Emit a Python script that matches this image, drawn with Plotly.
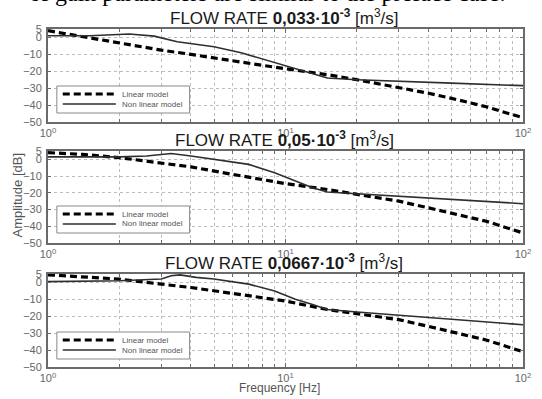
import plotly.graph_objects as go

# ---- data ----
freq_lin = [1, 1.4, 2, 3, 4, 6, 8, 10, 15, 20, 30, 40, 50, 70, 100]

lin_033 = [4, 0.5, -3.5, -7.5, -10, -14, -16.5, -18.5, -22, -25, -29.5, -33, -36, -41, -47.5]
freq_nl_033 = [1, 1.5, 2.2, 2.8, 3.5, 5, 6.5, 9, 12.5, 15, 20, 30, 50, 100]
nl_033 = [1, 1, 2, 0.8, -2.5, -5.5, -9, -15, -21, -24, -25, -26, -27, -28.5]

lin_05 = [4, 3, 1, -2, -4.5, -9, -12, -14.5, -18, -21, -25, -29, -32, -37, -44]
freq_nl_05 = [1, 2, 2.6, 3.3, 4, 5, 7, 9, 11, 13, 15, 20, 30, 50, 100]
nl_05 = [1.5, 1.5, 2, 3.5, 2, 0, -3, -8, -13, -17, -19.5, -20.5, -22, -24, -26.5]

lin_0667 = [4.5, 3.5, 2, -1, -3, -6.5, -9, -11, -16, -18.5, -22, -26, -29, -34, -41]
freq_nl_0667 = [1, 2, 3, 3.3, 3.6, 4.2, 5, 7, 9, 11, 13, 15, 20, 30, 50, 100]
nl_0667 = [0.5, 1, 2, 4, 4.5, 3, 2, -1, -5, -10, -13, -16, -17.5, -19.5, -22, -25]

titles = ["FLOW RATE <b>0,033·10<sup>-3</sup></b> [m<sup>3</sup>/s]",
          "FLOW RATE <b>0,05·10<sup>-3</sup></b> [m<sup>3</sup>/s]",
          "FLOW RATE <b>0,0667·10<sup>-3</sup></b> [m<sup>3</sup>/s]"]
y_ticks = [5, 0, -10, -20, -30, -40, -50]
x_ticks = [1, 10, 100]
x_ticktext = ["10<sup>0</sup>", "10<sup>1</sup>", "10<sup>2</sup>"]
x_minor = [2, 3, 4, 5, 6, 7, 8, 9, 20, 30, 40, 50, 60, 70, 80, 90]
legend_names = ["Linear model", "Non linear model"]

panels = [
    (freq_lin, lin_033, freq_nl_033, nl_033),
    (freq_lin, lin_05, freq_nl_05, nl_05),
    (freq_lin, lin_0667, freq_nl_0667, nl_0667),
]

# ---- layout geometry (pixels) ----
W, H = 542, 399
ML, MR, MT, MB = 48, 11, 29, 32
PH = H - MT - MB
PW = W - ML - MR
panel_px = [(29, 122), (151, 243), (274, 367)]
legend_top_px = [86, 206, 332]

def py(p):
    return (H - MB - p) / PH

def px(x):
    return (x - ML) / PW

fig = go.Figure()
axis_color = "#6a6a6a"
grid_color = "#bdbdbd"
tick_font = dict(family="Liberation Sans, Arial", size=11, color="#666666")
dash_style = dict(color="black", width=3.2, dash="7px,4px")
solid_style = dict(color="#2e2e2e", width=1.6)

layout = dict(
    width=W, height=H,
    margin=dict(l=ML, r=MR, t=MT, b=MB),
    paper_bgcolor="white", plot_bgcolor="white",
    showlegend=False,
    annotations=[], shapes=[],
)

for i, (fl, yl, fn, yn) in enumerate(panels):
    n = "" if i == 0 else str(i + 1)
    xa = "x" + n
    ya = "y" + n
    fig.add_trace(go.Scatter(x=fl, y=yl, mode="lines", name=legend_names[0],
                             xaxis=xa, yaxis=ya, line=dash_style))
    fig.add_trace(go.Scatter(x=fn, y=yn, mode="lines", name=legend_names[1],
                             xaxis=xa, yaxis=ya, line=solid_style))
    top, bot = panel_px[i]
    layout["xaxis" + n] = dict(
        type="log", range=[0, 2], domain=[0, 1], anchor=ya,
        tickvals=x_ticks, ticktext=x_ticktext, tickfont=tick_font,
        showgrid=True, gridcolor=grid_color, griddash="dot", gridwidth=1,
        minor=dict(tickvals=x_minor, showgrid=True, gridcolor=grid_color,
                   griddash="dot", gridwidth=1, ticks="inside", ticklen=3,
                   tickcolor=axis_color),
        showline=True, linecolor=axis_color, linewidth=2, mirror="ticks",
        ticks="inside", ticklen=4, tickcolor=axis_color, zeroline=False,
        ticklabelstandoff=0,
    )
    layout["yaxis" + n] = dict(
        range=[-50, 5], domain=[py(bot), py(top)], anchor=xa,
        tickvals=y_ticks, tickfont=tick_font,
        showgrid=True, gridcolor=grid_color, griddash="dot", gridwidth=1,
        showline=True, linecolor=axis_color, linewidth=2, mirror="ticks",
        ticks="inside", ticklen=3, tickcolor=axis_color, zeroline=False,
        ticklabelstandoff=2,
    )
    # manual legend box
    lt = legend_top_px[i]
    layout["shapes"].append(dict(
        type="rect", xref="paper", yref="paper",
        x0=px(57), x1=px(192), y0=py(lt + 27), y1=py(lt),
        line=dict(color="#888888", width=1), fillcolor="white", layer="above"))
    for k, (style, dy) in enumerate([(dash_style, 8), (solid_style, 18)]):
        layout["shapes"].append(dict(
            type="line", xref="paper", yref="paper",
            x0=px(63), x1=px(117), y0=py(lt + dy), y1=py(lt + dy),
            line=style, layer="above"))
        layout["annotations"].append(dict(
            text=legend_names[k], xref="paper", yref="paper",
            x=px(121), y=py(lt + dy), xanchor="left", yanchor="middle",
            showarrow=False,
            font=dict(family="Liberation Sans, Arial", size=8, color="#555555")))
    layout["annotations"].append(dict(
        text=titles[i], xref="paper", yref="paper",
        x=px(288), y=py(top), xanchor="center", yanchor="bottom",
        showarrow=False, yshift=-1,
        font=dict(family="Liberation Sans, Arial", size=17, color="#1a1a1a")))

layout["annotations"].append(dict(
    text="Amplitude [dB]", xref="paper", yref="paper",
    x=px(17), y=py(195), xanchor="center", yanchor="middle", textangle=-90,
    showarrow=False,
    font=dict(family="Liberation Sans, Arial", size=13, color="#555555")))
layout["annotations"].append(dict(
    text="Frequency [Hz]", xref="paper", yref="paper",
    x=px(283), y=py(388), xanchor="center", yanchor="middle",
    showarrow=False,
    font=dict(family="Liberation Sans, Arial", size=12, color="#555555")))
layout["annotations"].append(dict(
    text="of gain parameters are similar to the preface case.", xref="paper", yref="paper",
    x=px(271), y=py(-7), xanchor="center", yanchor="middle",
    showarrow=False,
    font=dict(family="Liberation Serif, Times New Roman", size=24, color="black")))

fig.update_layout(**layout)
fig.write_html("out.html")
